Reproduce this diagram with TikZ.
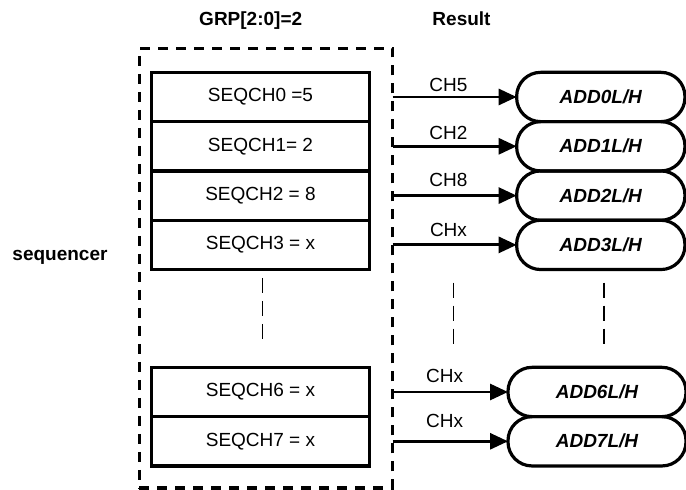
\documentclass[tikz,border=0pt]{standalone}
\usepackage{fontspec}
\setmainfont{Liberation Sans}
\usetikzlibrary{arrows.meta,positioning}

\begin{document}
\begin{tikzpicture}[x=1pt,y=1pt,font=\fontsize{19}{23}\selectfont,
    seqbox/.style={draw,line width=3.2pt,minimum width=217.6pt,minimum height=49.3pt,inner sep=0pt,outer sep=0pt},
    resbox/.style={draw,line width=3.2pt,rounded corners=24pt,minimum height=49.3pt,inner sep=0pt,outer sep=0pt,font=\fontsize{19}{23}\selectfont\bfseries\itshape},
    grpframe/.style={draw,line width=3.2pt,dash pattern=on 10pt off 8pt,minimum width=253.4pt,minimum height=439.7pt,inner sep=0pt,outer sep=0pt},
    chlink/.style={line width=2.9pt,-{Triangle[length=18pt,width=16pt]}},
    chname/.style={inner sep=0pt,pos=.45},
    gapmark/.style={line width=1.6pt,dash pattern=on 15pt off 8pt},
    heading/.style={font=\fontsize{19}{23}\selectfont\bfseries,anchor=base}]
  \useasboundingbox (0,0) rectangle (686,490);

  % headings
  \node[heading] (grp) at (250.7,464) {GRP[2:0]=2};
  \node[heading] (result) at (461.5,464) {Result};
  \node[heading] (seqname) at (60,229) {sequencer};

  % sequencer slots
  \node[grpframe] (frame) at (266,221.85) {};
  \node[seqbox] (seq0) at (260.5,393) {SEQCH0 =5};
  \node[seqbox,below=0pt of seq0] (seq1) {SEQCH1= 2};
  \node[seqbox,below=0pt of seq1] (seq2) {SEQCH2 = 8};
  \node[seqbox,below=0pt of seq2] (seq3) {SEQCH3 = x};
  \node[seqbox] (seq6) at (260.5,98) {SEQCH6 = x};
  \node[seqbox,below=0pt of seq6] (seq7) {SEQCH7 = x};

  % result registers
  \node[resbox,minimum width=168.3pt] (res0) at (600.8,393) {ADD0L/H};
  \node[resbox,minimum width=168.3pt,below=0pt of res0] (res1) {ADD1L/H};
  \node[resbox,minimum width=168.3pt,below=0pt of res1] (res2) {ADD2L/H};
  \node[resbox,minimum width=168.3pt,below=0pt of res2] (res3) {ADD3L/H};
  \node[resbox,minimum width=178pt] (res6) at (597,98) {ADD6L/H};
  \node[resbox,minimum width=178pt,below=0pt of res6] (res7) {ADD7L/H};

  % channel links
  \draw[chlink] (seq0 -| frame.east) -- node[chname,above=4pt] {CH5} (res0.west);
  \draw[chlink] (seq1 -| frame.east) -- node[chname,above=5pt] {CH2} (res1.west);
  \draw[chlink] (seq2 -| frame.east) -- node[chname,above=7pt] {CH8} (res2.west);
  \draw[chlink] (seq3 -| frame.east) -- node[chname,above=7pt] {CHx} (res3.west);
  \draw[chlink] (seq6 -| frame.east) -- node[chname,above=8pt] {CHx} (res6.west);
  \draw[chlink] (seq7 -| frame.east) -- node[chname,above=12pt] {CHx} (res7.west);

  % skipped slots
  \draw[gapmark] (262.3,212) -- (262.3,149);
  \draw[gapmark] (453.3,207.3) -- (453.3,145);
  \draw[gapmark] (604,207.3) -- (604,145);
\end{tikzpicture}
\end{document}
